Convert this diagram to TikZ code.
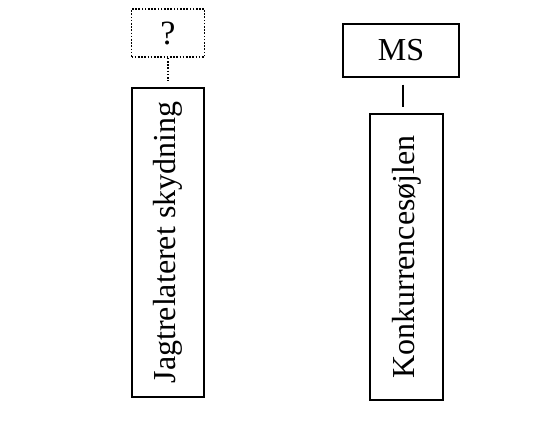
\documentclass[tikz,border=0pt]{standalone}
\usepackage{fontspec}
\setmainfont{Liberation Serif}

\begin{document}
\begin{tikzpicture}
        [x=1pt, y=1pt,
         box/.style={rectangle, draw=black, line width=1.2pt, inner sep=0pt, font=\fontsize{32}{36}\selectfont},
         dotbox/.style={box, line width=1.8pt, dash pattern=on 1.6pt off 1.6pt},
         tall/.style={box, rotate=90}]
        \useasboundingbox (0,0) rectangle (552,432);
        \path node (q) at (168,399) [dotbox, minimum width=73pt, minimum height=48pt, font=\fontsize{34}{38}\selectfont] {?}
              node (jagt) at (168,189.5) [tall, minimum width=309pt, minimum height=72pt] {Jagtrelateret skydning}
              node (ms) at (401,381.5) [box, minimum width=116pt, minimum height=53pt] {MS}
              node (konk) at (406.5,175) [tall, minimum width=286pt, minimum height=73pt] {Konkurrencesøjlen};
        \draw [line width=1.8pt, dash pattern=on 1.6pt off 1.6pt, shorten >=6pt] (q) -- (jagt);
        \draw [line width=1.2pt, shorten <=7pt, shorten >=6pt] ([xshift=2pt]ms.south) -- ([xshift=-3.5pt]konk.east);
      \end{tikzpicture}
\end{document}
